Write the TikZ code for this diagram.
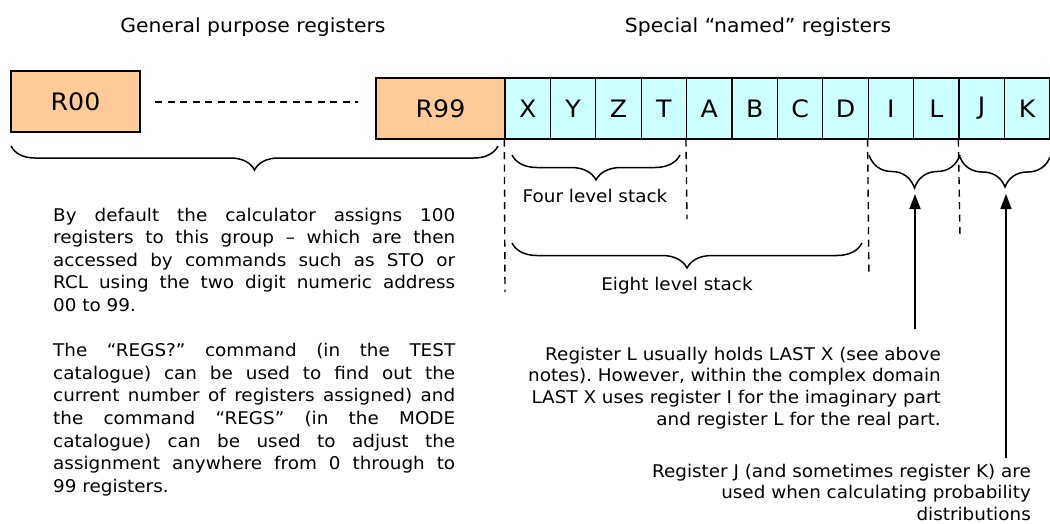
\documentclass[tikz,border=0pt]{standalone}
\usepackage{fontspec}
\setmainfont{DejaVu Sans}[FakeStretch=1.05]
\usetikzlibrary{decorations.pathreplacing,arrows.meta}
\definecolor{regorange}{HTML}{FFCC99}
\definecolor{regcyan}{HTML}{CCFFFF}
\frenchspacing
\tikzset{
 reg/.style={draw, line width=1.3pt, minimum height=61pt, inner sep=0pt, font=\fontsize{24}{28}\selectfont},
 gpr/.style={reg, fill=regorange, minimum width=129pt},
 cell/.style={reg, fill=regcyan, minimum width=45.4pt},
 dsh/.style={line width=1.4pt, dash pattern=on 7pt off 5.5pt},
 brc/.style={line width=1.5pt, decorate},
 arr/.style={line width=1.6pt, -{Triangle[width=11pt,length=15pt]}},
 body/.style={inner sep=0pt, font=\fontsize{17.5}{22.6}\selectfont},
 rbody/.style={inner sep=0pt, font=\fontsize{17.5}{21.7}\selectfont, text width=520pt, align=right, anchor=base east},
 ttl/.style={inner sep=0pt, font=\fontsize{19.4}{23}\selectfont, anchor=base},
}
\begin{document}
\begin{tikzpicture}[x=1pt,y=-1pt]
\useasboundingbox (0,0) rectangle (1050,523);
% titles
\node[ttl] (t1) at (253,32) {General purpose registers};
\node[ttl] (t2) at (758,32) {Special “named” registers};
% general purpose registers
\node[gpr] (r00) at (75.5,101.5) {R00};
\node[gpr] (r99) at (440.5,108.5) {R99};
\coordinate (d1) at (155,102);
\coordinate (d2) at (358,102);
\draw[dsh] (d1) -- (d2);
% special registers
\foreach \n [count=\i from 0] in {X,Y,Z,T,A,B,C,D,I,L,J,K}
  \node[cell] (c\n) at ({505+45.4*\i+22.7},108.5) {\n};
% dashed separators
\coordinate (v1) at (505,292);
\coordinate (v2) at (687,219);
\coordinate (v3) at (869,277);
\coordinate (v4) at (960,236);
\draw[dsh] (cX.south west) -- (v1);
\draw[dsh] (cA.south west) -- (v2);
\draw[dsh] (cI.south west) -- (v3);
\draw[dsh] (cJ.south west) -- (v4);
% braces
\draw[brc, decoration={brace,amplitude=24pt}] (498,146) -- (11,146);
\draw[brc, decoration={brace,amplitude=25pt}] (680,155) -- (512,155);
\draw[brc, decoration={brace,amplitude=25pt}] (862,243) -- (512,243);
\draw[brc, decoration={brace,amplitude=33pt}] (960,155) -- (869,155);
\draw[brc, decoration={brace,amplitude=30pt}] (1050,157) -- (960,157);
\node[body, anchor=base] (four) at (595,202) {Four level stack};
\node[body, anchor=base] (eight) at (677,290) {Eight level stack};
% arrows
\coordinate (aIL) at (915,329);
\coordinate (tIL) at (915,194);
\coordinate (aJK) at (1006,458);
\coordinate (tJK) at (1006,194);
\draw[arr] (aIL) -- (tIL);
\draw[arr] (aJK) -- (tJK);
% texts
\node[body, text width=402pt, align=justify, anchor=base west] (gtext) at (53,221)
 {By default the calculator assigns 100\linebreak registers to this group – which are then\linebreak accessed by commands such as STO or\linebreak RCL using the two digit numeric address\linebreak 00 to 99.\par\vspace{22.6pt}The “REGS?” command (in the TEST\linebreak catalogue) can be used to find out the\linebreak current number of registers assigned) and\linebreak the command “REGS” (in the MODE\linebreak catalogue) can be used to adjust the\linebreak assignment anywhere from 0 through to\linebreak 99 registers.};
\node[rbody] (ltext) at (941,360)
 {Register L usually holds LAST X (see above\\ notes). However, within the complex domain\\ LAST X uses register I for the imaginary part\\ and register L for the real part.};
\node[rbody, font=\fontsize{17.5}{21.4}\selectfont] (jtext) at (1031,477.5)
 {Register J (and sometimes register K) are\\ used when calculating probability\\ distributions};
\end{tikzpicture}
\end{document}
